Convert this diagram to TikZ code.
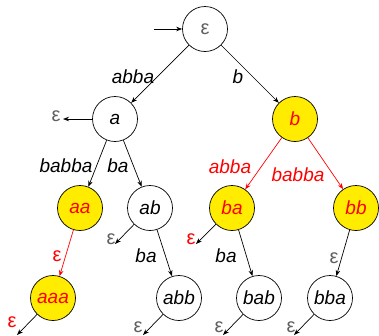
\documentclass[tikz,border=0pt]{standalone}
\usepackage{fontspec}
\setmainfont{Liberation Sans}
\usetikzlibrary{arrows.meta}
\definecolor{acceptyellow}{RGB}{255,236,0}
\definecolor{epsgray}{RGB}{95,95,95}
\newcommand{\epsym}{{\upshape\fontsize{20}{20}\selectfont ε}}

\begin{document}
\begin{tikzpicture}[x=1pt,y=-1pt,line width=0.7pt,
  >={Stealth[length=6pt,width=4.5pt]},
  state/.style={circle,draw,minimum size=45pt,inner sep=0pt,
    font=\fontsize{19}{19}\selectfont\itshape},
  accept/.style={state,fill=acceptyellow,text=red},
  lbl/.style={font=\fontsize{19}{19}\selectfont\itshape,inner sep=0pt},
  epslbl/.style={inner sep=0pt,text=epsgray}]

\useasboundingbox (0,0) rectangle (379,335);

% states of the trie
\node[state] (root) at (205,29) {\textcolor{epsgray}{\epsym}};
\node[state] (a) at (115,119) {a};
\node[accept] (b) at (295,119) {b};
\node[accept] (aa) at (80,208) {aa};
\node[state] (ab) at (150,208) {ab};
\node[accept] (ba) at (232,208) {ba};
\node[accept] (bb) at (356,208) {bb};
\node[accept] (aaa) at (53,298) {aaa};
\node[state] (abb) at (179,298) {abb};
\node[state] (bab) at (259,298) {bab};
\node[state] (bba) at (330,298) {bba};

% start and loose ends
\coordinate (start) at (154,29);
\coordinate (aE) at (63,119);
\coordinate (abE) at (115,244);
\coordinate (baE) at (196,244);
\coordinate (aaaE) at (17,335);
\coordinate (abbE) at (143,335);
\coordinate (babE) at (223,335);
\coordinate (bbaE) at (294,335);

\draw[->] (start) -- (root);
\draw[->] (root) -- (a);
\draw[->] (root) -- (b);
\draw[->] (a) -- (aa);
\draw[->] (a) -- (ab);
\draw[->,red] (b) -- (ba);
\draw[->,red] (b) -- (bb);
\draw[->,red] (aa) -- (aaa);
\draw[->] (ab) -- (abb);
\draw[->] (ba) -- (bab);
\draw[->] (bb) -- (bba);

\draw[->] (a) -- (aE);
\foreach \s in {ab,ba,aaa,abb,bab,bba} \draw[->] (\s) -- (\s E);

% edge labels
\node[lbl] (l1) at (133,77) {abba};
\node[lbl] (l2) at (238,77) {b};
\node[lbl] (l3) at (66,166) {babba};
\node[lbl] (l4) at (118,166) {ba};
\node[lbl,red] (l5) at (230,167) {abba};
\node[lbl,red] (l6) at (298,175) {babba};
\node[lbl] (l7) at (146,256) {ba};
\node[lbl] (l8) at (226,256) {ba};
\node[epslbl,red] (l9) at (57,256) {\epsym};
\node[epslbl] (l10) at (334,258) {\epsym};

% output labels
\node[epslbl] (o1) at (56,116) {\epsym};
\node[epslbl] (o2) at (111,239) {\epsym};
\node[epslbl,red] (o3) at (191,239) {\epsym};
\node[epslbl,red] (o4) at (12,322) {\epsym};
\node[epslbl] (o5) at (138,327) {\epsym};
\node[epslbl] (o6) at (219,327) {\epsym};
\node[epslbl] (o7) at (291,327) {\epsym};

\end{tikzpicture}
\end{document}
